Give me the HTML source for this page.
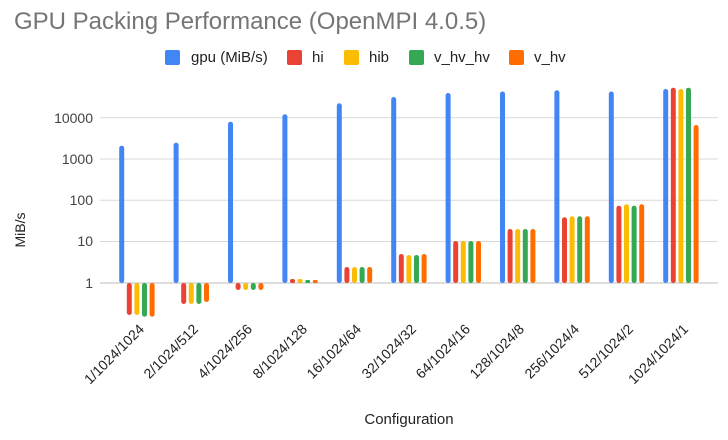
<!DOCTYPE html>
<html><head><meta charset="utf-8"><style>
html,body{margin:0;padding:0;background:#fff;}
svg{display:block;font-family:"Liberation Sans",Arial,sans-serif;}
</style></head><body>
<svg width="728" height="440" viewBox="0 0 728 440">
<rect width="728" height="440" fill="#fff"/>
<text x="14" y="29" font-size="24" fill="#757575">GPU Packing Performance (OpenMPI 4.0.5)</text>
<g font-size="15" fill="#222">
<rect x="165" y="50" width="15" height="15" rx="2" fill="#4285f4"/><text x="191" y="62">gpu (MiB/s)</text>
<rect x="287" y="50" width="15" height="15" rx="2" fill="#ea4335"/><text x="312" y="62">hi</text>
<rect x="344" y="50" width="15" height="15" rx="2" fill="#fbbc04"/><text x="369" y="62">hib</text>
<rect x="409" y="50" width="15" height="15" rx="2" fill="#34a853"/><text x="434" y="62">v_hv_hv</text>
<rect x="509" y="50" width="15" height="15" rx="2" fill="#ff6d01"/><text x="534" y="62">v_hv</text>
</g>
<g stroke="#d9d9d9" stroke-width="1">
<line x1="100" x2="718" y1="117.7" y2="117.7"/>
<line x1="100" x2="718" y1="159" y2="159"/>
<line x1="100" x2="718" y1="200.2" y2="200.2"/>
<line x1="100" x2="718" y1="241.5" y2="241.5"/>
</g>
<line x1="100" x2="718" y1="283" y2="283" stroke="#bdbdbd"/>
<g font-size="14" fill="#444" text-anchor="end">
<text x="93" y="123">10000</text>
<text x="93" y="164">1000</text>
<text x="93" y="205">100</text>
<text x="93" y="246">10</text>
<text x="93" y="288">1</text>
</g>
<text transform="translate(25,230) rotate(-90)" font-size="14" fill="#222" text-anchor="middle">MiB/s</text>
<text x="409" y="424" font-size="15" fill="#222" text-anchor="middle">Configuration</text>
<g>
<!-- g0 -->
<rect x="119.2" y="145.7" width="5" height="137.3" rx="2.5" fill="#4285f4"/>
<rect x="126.8" y="283" width="5" height="32" rx="2.5" fill="#ea4335"/>
<rect x="134.4" y="283" width="5" height="32" rx="2.5" fill="#fbbc04"/>
<rect x="142" y="283" width="5" height="33.7" rx="2.5" fill="#34a853"/>
<rect x="149.6" y="283" width="5" height="33.7" rx="2.5" fill="#ff6d01"/>
<!-- g1 -->
<rect x="173.6" y="142.7" width="5" height="140.3" rx="2.5" fill="#4285f4"/>
<rect x="181.2" y="283" width="5" height="21" rx="2.5" fill="#ea4335"/>
<rect x="188.8" y="283" width="5" height="21" rx="2.5" fill="#fbbc04"/>
<rect x="196.4" y="283" width="5" height="21" rx="2.5" fill="#34a853"/>
<rect x="204" y="283" width="5" height="19" rx="2.5" fill="#ff6d01"/>
<!-- g2 -->
<rect x="228" y="121.7" width="5" height="161.3" rx="2.5" fill="#4285f4"/>
<rect x="235.6" y="283" width="5" height="7" rx="2.5" fill="#ea4335"/>
<rect x="243.2" y="283" width="5" height="7" rx="2.5" fill="#fbbc04"/>
<rect x="250.8" y="283" width="5" height="7" rx="2.5" fill="#34a853"/>
<rect x="258.4" y="283" width="5" height="7" rx="2.5" fill="#ff6d01"/>
<!-- g3 -->
<rect x="282.4" y="114.3" width="5" height="168.7" rx="2.5" fill="#4285f4"/>
<rect x="290" y="279" width="5" height="4" rx="2" fill="#ea4335"/>
<rect x="297.6" y="279" width="5" height="4" rx="2" fill="#fbbc04"/>
<rect x="305.2" y="280" width="5" height="3" rx="1.5" fill="#34a853"/>
<rect x="312.8" y="280" width="5" height="3" rx="1.5" fill="#ff6d01"/>
<!-- g4 -->
<rect x="336.8" y="103.3" width="5" height="179.7" rx="2.5" fill="#4285f4"/>
<rect x="344.4" y="267" width="5" height="16" rx="2.5" fill="#ea4335"/>
<rect x="352" y="267" width="5" height="16" rx="2.5" fill="#fbbc04"/>
<rect x="359.6" y="267" width="5" height="16" rx="2.5" fill="#34a853"/>
<rect x="367.2" y="267" width="5" height="16" rx="2.5" fill="#ff6d01"/>
<!-- g5 -->
<rect x="391.2" y="97" width="5" height="186" rx="2.5" fill="#4285f4"/>
<rect x="398.8" y="254" width="5" height="29" rx="2.5" fill="#ea4335"/>
<rect x="406.4" y="255" width="5" height="28" rx="2.5" fill="#fbbc04"/>
<rect x="414" y="255" width="5" height="28" rx="2.5" fill="#34a853"/>
<rect x="421.6" y="254" width="5" height="29" rx="2.5" fill="#ff6d01"/>
<!-- g6 -->
<rect x="445.6" y="93" width="5" height="190" rx="2.5" fill="#4285f4"/>
<rect x="453.2" y="241" width="5" height="42" rx="2.5" fill="#ea4335"/>
<rect x="460.8" y="241" width="5" height="42" rx="2.5" fill="#fbbc04"/>
<rect x="468.4" y="241" width="5" height="42" rx="2.5" fill="#34a853"/>
<rect x="476" y="241" width="5" height="42" rx="2.5" fill="#ff6d01"/>
<!-- g7 -->
<rect x="500" y="91.5" width="5" height="191.5" rx="2.5" fill="#4285f4"/>
<rect x="507.6" y="229" width="5" height="54" rx="2.5" fill="#ea4335"/>
<rect x="515.2" y="229" width="5" height="54" rx="2.5" fill="#fbbc04"/>
<rect x="522.8" y="229" width="5" height="54" rx="2.5" fill="#34a853"/>
<rect x="530.4" y="229" width="5" height="54" rx="2.5" fill="#ff6d01"/>
<!-- g8 -->
<rect x="554.4" y="90.3" width="5" height="192.7" rx="2.5" fill="#4285f4"/>
<rect x="562" y="217.3" width="5" height="65.7" rx="2.5" fill="#ea4335"/>
<rect x="569.6" y="216.3" width="5" height="66.7" rx="2.5" fill="#fbbc04"/>
<rect x="577.2" y="216.3" width="5" height="66.7" rx="2.5" fill="#34a853"/>
<rect x="584.8" y="216.3" width="5" height="66.7" rx="2.5" fill="#ff6d01"/>
<!-- g9 -->
<rect x="608.8" y="91.5" width="5" height="191.5" rx="2.5" fill="#4285f4"/>
<rect x="616.4" y="205.7" width="5" height="77.3" rx="2.5" fill="#ea4335"/>
<rect x="624" y="204.3" width="5" height="78.7" rx="2.5" fill="#fbbc04"/>
<rect x="631.6" y="205.7" width="5" height="77.3" rx="2.5" fill="#34a853"/>
<rect x="639.2" y="204.3" width="5" height="78.7" rx="2.5" fill="#ff6d01"/>
<!-- g10 -->
<rect x="663.2" y="89" width="5" height="194" rx="2.5" fill="#4285f4"/>
<rect x="670.8" y="87.7" width="5" height="195.3" rx="2.5" fill="#ea4335"/>
<rect x="678.4" y="89" width="5" height="194" rx="2.5" fill="#fbbc04"/>
<rect x="686" y="87.7" width="5" height="195.3" rx="2.5" fill="#34a853"/>
<rect x="693.6" y="125" width="5" height="158" rx="2.5" fill="#ff6d01"/>
</g>
<g font-size="14" fill="#222" text-anchor="end">
<text transform="translate(145,330) rotate(-45)">1/1024/1024</text>
<text transform="translate(199,330) rotate(-45)">2/1024/512</text>
<text transform="translate(253,330) rotate(-45)">4/1024/256</text>
<text transform="translate(308,330) rotate(-45)">8/1024/128</text>
<text transform="translate(362,330) rotate(-45)">16/1024/64</text>
<text transform="translate(417,330) rotate(-45)">32/1024/32</text>
<text transform="translate(471,330) rotate(-45)">64/1024/16</text>
<text transform="translate(525,330) rotate(-45)">128/1024/8</text>
<text transform="translate(580,330) rotate(-45)">256/1024/4</text>
<text transform="translate(634,330) rotate(-45)">512/1024/2</text>
<text transform="translate(689,330) rotate(-45)">1024/1024/1</text>
</g>
</svg>
</body></html>
